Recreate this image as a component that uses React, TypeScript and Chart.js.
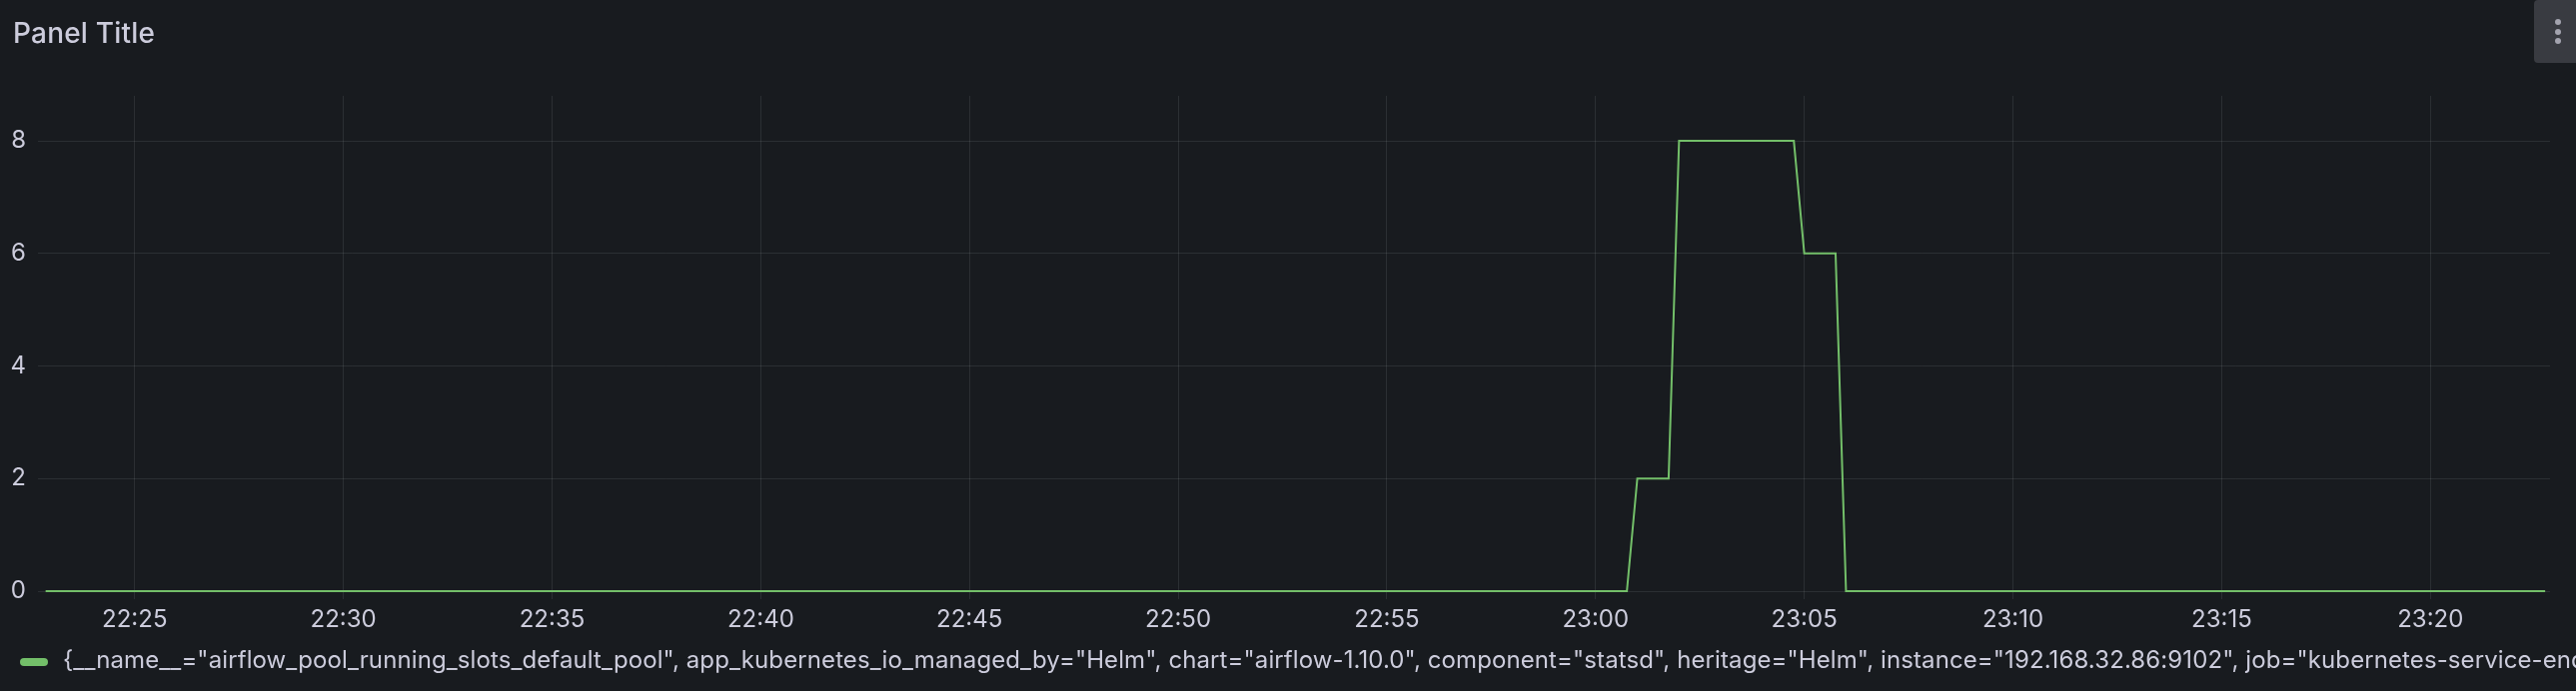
import React, { useEffect, useRef } from "react";
import { Chart, registerables } from "chart.js";

Chart.register(...registerables);

// ---- data ----
const sampleTimes = [
  "22:22:52",
  "23:00:45",
  "23:01:00",
  "23:01:45",
  "23:02:00",
  "23:04:45",
  "23:05:00",
  "23:05:45",
  "23:06:00",
  "23:22:45",
];
const sampleValues = [0, 0, 2, 2, 8, 8, 6, 6, 0, 0];
const xTickLabels = [
  "22:25", "22:30", "22:35", "22:40", "22:45", "22:50",
  "22:55", "23:00", "23:05", "23:10", "23:15", "23:20",
];
const yTickValues = [0, 2, 4, 6, 8];
const rangeStart = "22:22:41";
const rangeEnd = "23:22:52";
const yMax = 8.8;
const panelTitle = "Panel Title";
const seriesLabel =
  '{__name__="airflow_pool_running_slots_default_pool", app_kubernetes_io_managed_by="Helm", chart="airflow-1.10.0", component="statsd", heritage="Helm", instance="192.168.32.86:9102", job="kubernetes-service-endpoints"}';

// ---- helpers ----
function toSec(t: string): number {
  const parts = t.split(":").map((p) => parseInt(p, 10));
  return parts[0] * 3600 + parts[1] * 60 + (parts[2] || 0);
}
function fmt(v: number): string {
  const h = Math.floor(v / 3600);
  const m = Math.round((v - h * 3600) / 60);
  return `${h}:${String(m).padStart(2, "0")}`;
}

const BG = "#181B1F";
const TEXT = "#CCCCDC";
const GRID = "rgba(240, 250, 255, 0.09)";
const GREEN = "#73BF69";
const FONT = "Inter, 'Noto Sans', sans-serif";

export default function App() {
  const canvasRef = useRef<HTMLCanvasElement | null>(null);

  useEffect(() => {
    document.body.style.margin = "0";
    document.body.style.background = BG;
    const canvas = canvasRef.current;
    if (!canvas) return;

    const chart = new Chart(canvas, {
      type: "line",
      data: {
        datasets: [
          {
            label: seriesLabel,
            data: sampleTimes.map((t, i) => ({ x: toSec(t), y: sampleValues[i] })),
            borderColor: GREEN,
            backgroundColor: GREEN,
            borderWidth: 2,
            pointRadius: 0,
            tension: 0,
            clip: false as any,
          },
        ],
      },
      options: {
        animation: false,
        responsive: false,
        maintainAspectRatio: false,
        layout: { padding: { top: 96, right: 26, left: 0, bottom: 0 } },
        plugins: {
          legend: { display: false },
          title: { display: false },
          tooltip: { enabled: false },
        },
        scales: {
          x: {
            type: "linear",
            min: toSec(rangeStart),
            max: toSec(rangeEnd),
            afterFit: (scale: any) => {
              scale.height = 100;
            },
            afterBuildTicks: (scale: any) => {
              scale.ticks = xTickLabels.map((t) => ({ value: toSec(t) }));
            },
            border: { display: false },
            grid: {
              color: GRID,
              lineWidth: 1,
              drawTicks: true,
              tickLength: 8,
              tickColor: GRID,
            },
            ticks: {
              color: TEXT,
              font: { family: FONT, size: 24, lineHeight: 1 },
              padding: 9,
              maxRotation: 0,
              autoSkip: false,
              callback: (v: any) => fmt(Number(v)),
            },
          },
          y: {
            type: "linear",
            min: 0,
            max: yMax,
            afterFit: (scale: any) => {
              scale.width = 38;
            },
            afterBuildTicks: (scale: any) => {
              scale.ticks = yTickValues.map((v) => ({ value: v }));
            },
            border: { display: false },
            grid: {
              color: GRID,
              lineWidth: 1,
              drawTicks: false,
            },
            ticks: {
              color: TEXT,
              font: { family: FONT, size: 24, lineHeight: 1 },
              padding: 12,
              callback: (v: any) => String(v),
            },
          },
        },
      },
    });
    return () => chart.destroy();
  }, []);

  return (
    <div
      style={{
        position: "relative",
        width: 2578,
        height: 692,
        background: BG,
        overflow: "hidden",
        fontFamily: FONT,
      }}
    >
      <canvas
        ref={canvasRef}
        width={2578}
        height={692}
        style={{ position: "absolute", left: 0, top: 0, width: 2578, height: 692 }}
      />
      <div
        style={{
          position: "absolute",
          left: 13,
          top: 19,
          fontSize: 28,
          lineHeight: "28px",
          fontWeight: 500,
          letterSpacing: "0.2px",
          color: TEXT,
          whiteSpace: "nowrap",
        }}
      >
        {panelTitle}
      </div>
      <div
        style={{
          position: "absolute",
          left: 2536,
          top: 0,
          width: 60,
          height: 63,
          background: "#393B41",
          borderRadius: 4,
        }}
      >
        {[22, 32, 41].map((y) => (
          <div
            key={y}
            style={{
              position: "absolute",
              left: 21,
              top: y - 3,
              width: 6,
              height: 6,
              borderRadius: 3,
              background: "#A3A3AE",
            }}
          />
        ))}
      </div>
      <div
        style={{
          position: "absolute",
          left: 20,
          top: 649,
          width: 2578,
          height: 28,
          whiteSpace: "nowrap",
          display: "flex",
          alignItems: "flex-start",
        }}
      >
        <div
          style={{
            width: 28,
            height: 8,
            borderRadius: 4,
            background: GREEN,
            marginTop: 10,
            flex: "0 0 auto",
          }}
        />
        <div
          style={{
            marginLeft: 15,
            fontSize: 24,
            lineHeight: "24px",
            letterSpacing: "0.1px",
            color: TEXT,
            whiteSpace: "nowrap",
          }}
        >
          {seriesLabel}
        </div>
      </div>
    </div>
  );
}
